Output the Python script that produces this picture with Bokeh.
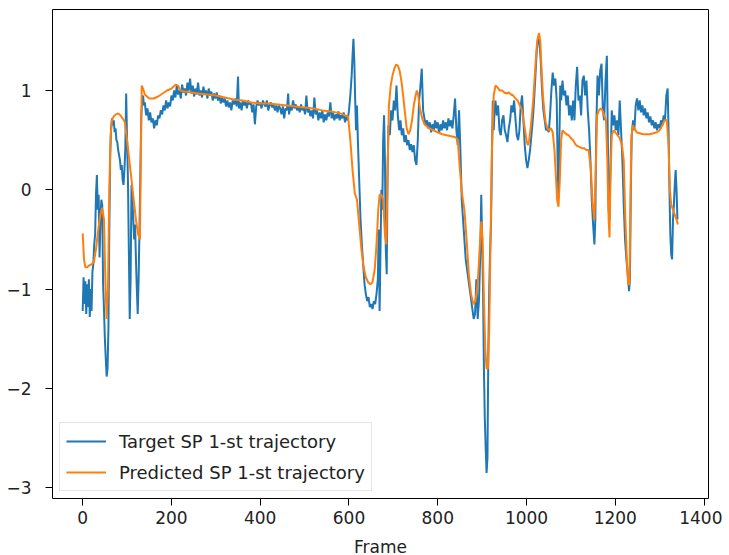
from bokeh.plotting import figure
from bokeh.models import Range1d, FixedTicker, Legend, LegendItem
from bokeh.embed import file_html
from bokeh.resources import INLINE

target_frames = [0, 2, 4, 6, 8, 10, 12, 14, 16, 18, 20, 22, 24, 26, 28, 30, 32, 34, 36, 38, 40, 42, 44, 46, 48, 50, 52, 54, 56, 58,
    60, 62, 64, 66, 68, 70, 72, 74, 76, 78, 80, 82, 84, 86, 88, 90, 92, 94, 96, 98, 100, 102, 104, 106, 108, 110, 112, 114, 116, 118,
    120, 122, 124, 126, 128, 130, 132, 134, 136, 138, 140, 143, 146, 149, 152, 155, 158, 161, 164, 167, 170, 173, 176, 179, 182, 185,
    188, 191, 194, 197, 200, 203, 206, 209, 212, 215, 218, 221, 224, 227, 230, 233, 236, 239, 242, 245, 248, 251, 254, 257, 260, 263,
    266, 269, 272, 275, 278, 281, 284, 287, 290, 293, 296, 299, 302, 305, 308, 311, 314, 317, 320, 323, 326, 329, 332, 335, 338, 341,
    344, 347, 350, 352, 355, 358, 361, 364, 367, 370, 373, 376, 379, 382, 385, 388, 391, 394, 397, 400, 403, 406, 409, 412, 415, 418,
    421, 424, 427, 430, 433, 436, 439, 442, 445, 448, 451, 454, 457, 460, 463, 465, 468, 471, 474, 477, 480, 483, 486, 489, 492, 495,
    498, 501, 504, 507, 510, 513, 516, 519, 522, 525, 528, 531, 534, 537, 540, 543, 546, 549, 552, 555, 558, 561, 564, 567, 570, 573,
    576, 579, 582, 585, 588, 591, 594, 597, 600, 603, 606, 608, 610, 612, 614, 616, 618, 620, 623, 626, 629, 632, 635, 638, 641, 644,
    647, 650, 653, 656, 659, 662, 665, 667, 669, 671, 673, 675, 677, 679, 681, 683, 685, 687, 689, 692, 695, 698, 701, 704, 707, 710,
    713, 716, 719, 722, 725, 728, 731, 734, 737, 740, 743, 746, 749, 752, 755, 758, 761, 764, 767, 770, 773, 776, 779, 782, 785, 788,
    791, 794, 797, 800, 803, 806, 809, 812, 815, 818, 821, 824, 827, 830, 833, 836, 839, 842, 845, 848, 851, 854, 857, 860, 863, 866,
    869, 872, 875, 878, 881, 884, 887, 890, 893, 896, 898, 900, 902, 904, 906, 908, 910, 912, 914, 916, 918, 920, 922, 924, 926, 928,
    930, 933, 936, 939, 942, 945, 948, 951, 954, 957, 960, 963, 966, 969, 972, 975, 978, 981, 984, 987, 990, 993, 996, 999, 1002, 1005,
    1008, 1011, 1014, 1017, 1020, 1023, 1026, 1029, 1032, 1035, 1038, 1041, 1044, 1047, 1050, 1053, 1056, 1059, 1062, 1065, 1068, 1070,
    1072, 1074, 1076, 1078, 1081, 1084, 1087, 1090, 1093, 1096, 1099, 1102, 1105, 1108, 1111, 1114, 1117, 1120, 1123, 1126, 1129, 1132,
    1135, 1138, 1141, 1144, 1147, 1150, 1153, 1155, 1157, 1160, 1163, 1166, 1169, 1172, 1175, 1178, 1181, 1183, 1185, 1187, 1189, 1192,
    1195, 1198, 1201, 1204, 1207, 1210, 1213, 1216, 1219, 1222, 1225, 1228, 1231, 1233, 1235, 1237, 1240, 1243, 1246, 1249, 1252, 1255,
    1258, 1261, 1264, 1267, 1270, 1273, 1276, 1279, 1282, 1285, 1288, 1291, 1294, 1297, 1300, 1303, 1306, 1309, 1312, 1315, 1318, 1320,
    1322, 1324, 1326, 1328, 1330, 1332, 1334, 1336, 1338, 1340]

target_values = [-1.22, -0.88, -1.15, -0.92, -1.25, -0.95, -1.18, -0.9, -1.28, -1.0, -1.22, -0.82, -0.75, -0.55, -0.45, -0.05, 0.15, -0.2, -0.05, -0.68,
    -0.3, -0.1, -0.15, -0.95, -1.2, -1.5, -1.7, -1.88, -1.8, -1.4,
    -0.4, 0.35, 0.62, 0.72, 0.65, 0.7, 0.58, 0.62, 0.5, 0.48, 0.4, 0.35, 0.3, 0.2, 0.25, 0.1, 0.05, 0.2, 0.4, 0.97, 0.5, 0.1, -0.6, -1.3, -0.9, 0.05, -0.1, -0.3, -0.5, -0.35,
    -0.7, -1.0, -1.25, -0.9, -0.4, 0.2, 0.75, 0.9, 0.95, 0.85, 0.88, 0.75, 0.82, 0.7, 0.78, 0.68, 0.72, 0.62, 0.7, 0.65, 0.75, 0.72, 0.8, 0.76, 0.85, 0.8,
    0.9, 0.82, 0.88, 0.84, 0.95, 0.9, 1.0, 0.93, 1.05, 0.96, 1.0, 0.92, 1.06, 0.98, 1.02, 0.95, 1.08, 1.0, 1.12, 0.97, 1.05, 0.94, 1.02, 0.96, 1.08, 0.95,
    1.0, 0.93, 1.04, 0.97, 1.0, 0.92, 1.02, 0.95, 0.99, 0.9, 0.97, 0.92, 0.98, 0.9, 0.95, 0.87, 0.93, 0.88, 0.92, 0.84, 0.9, 0.83, 0.88, 0.8, 0.9, 0.86,
    0.92, 0.84, 1.14, 0.82, 0.88, 0.8, 0.9, 0.85, 0.89, 0.82, 0.9, 0.86, 0.88, 0.78, 0.86, 0.66, 0.84, 0.9, 0.85, 0.88, 0.82, 0.9, 0.86, 0.84, 0.9, 0.8,
    0.85, 0.88, 0.83, 0.86, 0.8, 0.85, 0.78, 0.85, 0.82, 0.76, 0.84, 0.72, 0.82, 0.8, 0.97, 0.76, 0.84, 0.8, 0.9, 0.82, 0.86, 0.8, 0.84, 0.78, 0.86, 0.8,
    0.83, 0.76, 0.95, 0.78, 0.82, 0.74, 0.8, 0.72, 0.93, 0.76, 0.8, 0.7, 0.78, 0.72, 0.8, 0.68, 0.76, 0.7, 0.78, 0.74, 0.88, 0.72, 0.78, 0.7, 0.76, 0.72,
    0.79, 0.7, 0.75, 0.72, 0.78, 0.68, 0.74, 0.7, 0.8, 0.95, 1.15, 1.35, 1.52, 1.3, 0.9, 0.6, 0.85, 0.5, 0.1, -0.3, -0.55, -0.75, -0.95, -1.05, -1.12, -1.08,
    -1.18, -1.15, -1.2, -1.12, -1.15, -1.05, -0.9, -0.4, -1.22, -0.6, 0.0, -0.2, 0.5, 0.75, 0.3, -0.6, -0.85, 0.2, 0.65, 0.55, 0.8, 0.7, 0.9, 0.8, 1.05, 0.75,
    0.6, 0.7, 0.55, 0.62, 0.48, 0.55, 0.45, 0.5, 0.4, 0.46, 0.38, 0.45, 0.3, 0.25, 0.5, 0.9, 1.05, 1.22, 0.8, 0.72, 0.65, 0.7, 0.62, 0.68, 0.58, 0.66,
    0.6, 0.7, 0.62, 0.68, 0.57, 0.66, 0.6, 0.7, 0.62, 0.68, 0.6, 0.72, 0.64, 0.7, 0.62, 0.75, 0.92, 0.6, 0.45, 0.8, 0.4, -0.1, -0.3, -0.5, -0.7, -0.8,
    -0.9, -1.0, -1.1, -1.2, -1.3, -1.25, -0.9, -1.3, -1.1, -0.6, -0.05, -0.5, -1.0, -1.8, -2.3, -2.6, -2.85, -2.7, -1.6, -1.0, -0.6, -0.35, 0.3, 0.9, 0.6, 0.8,
    0.9, 0.75, 0.85, 0.6, 0.55, 0.7, 0.75, 0.6, 0.55, 0.48, 0.62, 0.7, 0.85, 0.78, 0.9, 0.72, 0.55, 0.5, 0.6, 0.85, 0.95, 0.7, 0.45, 0.3, 0.22, 0.3,
    0.4, 0.55, 0.7, 0.9, 1.15, 1.4, 1.52, 1.5, 1.3, 1.0, 0.8, 0.7, 0.6, 0.62, 0.58, 0.75, 1.0, 1.18, 1.05, 1.12, 0.9, 0.3,
    -0.08, 0.5, 1.05, 0.9, 1.1, 0.95, 1.0, 0.85, 0.95, 0.75, 0.85, 0.7, 0.9, 0.7, 1.05, 1.24, 0.9, 0.95, 0.75, 1.1, 1.15, 0.95,
    1.1, 0.8, 0.6, 0.3, -0.1, -0.35, -0.55, -0.3, 0.6, 1.15, 0.95, 1.2, 1.27, 0.8, 0.7, 1.1, 1.35, 0.6, -0.2, -0.3, 0.2, 0.8,
    0.65, 0.75, 0.6, 0.7, 0.55, 0.9, 0.6, 0.3, -0.15, -0.5, -0.7, -0.85, -1.02, -0.9, 0.0, 0.55, 0.7, 0.6, 0.85, 0.92, 0.8, 0.9,
    0.78, 0.85, 0.75, 0.82, 0.72, 0.78, 0.68, 0.74, 0.65, 0.7, 0.62, 0.68, 0.6, 0.66, 0.62, 0.7, 0.65, 0.75, 0.7, 0.95, 1.02, 0.6,
    0.0, -0.45, -0.65, -0.7, -0.3, -0.15, 0.05, 0.2, 0.0, -0.3]

pred_frames = [0, 3, 6, 10, 15, 20, 25, 30, 35, 40, 44, 48, 51, 54, 57, 60, 63, 66, 70, 75, 80, 85, 90, 95, 100, 105, 110, 115, 120, 125,
    129, 131, 133, 136, 140, 145, 150, 160, 170, 180, 190, 200, 210, 215, 220, 230, 245, 260, 280, 300, 320, 340, 360, 380, 400, 420,
    440, 460, 480, 500, 520, 540, 560, 580, 598, 603, 608, 613, 618, 623, 628, 633, 638, 643, 648, 653, 658, 662, 666, 669, 673, 677,
    681, 684, 687, 690, 694, 698, 702, 706, 710, 714, 718, 722, 726, 730, 734, 738, 742, 746, 750, 753, 756, 760, 765, 770, 780, 790,
    800, 810, 820, 830, 840, 845, 850, 855, 860, 865, 870, 875, 880, 885, 890, 895, 898, 901, 904, 907, 910, 913, 916, 919, 922, 926,
    930, 935, 940, 945, 950, 955, 960, 965, 970, 975, 980, 985, 990, 995, 1000, 1003, 1006, 1010, 1015, 1020, 1024, 1028, 1031, 1034,
    1037, 1040, 1043, 1047, 1051, 1055, 1059, 1063, 1066, 1069, 1072, 1075, 1078, 1081, 1085, 1090, 1095, 1100, 1105, 1110, 1115, 1120,
    1125, 1130, 1135, 1140, 1145, 1149, 1153, 1156, 1159, 1163, 1167, 1171, 1175, 1179, 1182, 1185, 1187, 1189, 1192, 1196, 1200, 1205,
    1210, 1215, 1219, 1222, 1226, 1229, 1232, 1234, 1236, 1239, 1243, 1248, 1255, 1262, 1270, 1278, 1286, 1294, 1300, 1306, 1311, 1316,
    1320, 1323, 1326, 1330, 1334, 1338, 1341]

pred_values = [-0.44, -0.7, -0.78, -0.78, -0.76, -0.75, -0.73, -0.6, -0.4, -0.25, -0.18, -0.3, -0.9, -1.3, -1.0, 0.0, 0.55, 0.7, 0.74, 0.76,
    0.77, 0.75, 0.72, 0.68, 0.5, 0.3, 0.1, -0.1, -0.3, -0.45, -0.5, 0.3, 1.05, 1.02, 0.96, 0.94, 0.92, 0.92, 0.94, 0.97, 1.0, 1.02, 1.06, 1.05,
    1.0, 0.99, 0.98, 0.97, 0.96, 0.95, 0.93, 0.91, 0.9, 0.88, 0.87, 0.87, 0.86, 0.85, 0.84, 0.83, 0.82, 0.8, 0.79, 0.77, 0.74, 0.5, 0.2,
    -0.03, -0.1, -0.35, -0.6, -0.78, -0.88, -0.93, -0.95, -0.93, -0.8, -0.55, -0.2, -0.05, -0.05, -0.1, -0.45, -0.55, 0.2, 0.85, 1.05,
    1.15, 1.22, 1.26, 1.25, 1.2, 1.1, 0.95, 0.78, 0.62, 0.56, 0.6, 0.7, 0.85, 0.95, 1.0, 0.95, 0.82, 0.72, 0.66, 0.62, 0.6, 0.58, 0.56,
    0.55, 0.54, 0.53, 0.5, 0.2, -0.05, -0.2, -0.5, -0.85, -1.05, -1.15, -1.12, -0.95, -0.55, -0.32, -0.5, -1.1, -1.6, -1.8, -1.8, -1.4,
    -0.5, 0.4, 0.95, 1.05, 1.03, 1.0, 1.0, 0.98, 0.97, 0.98, 0.96, 0.95, 0.92, 0.9, 0.85, 0.8, 0.65, 0.5, 0.45, 0.5, 0.65, 0.9, 1.25,
    1.5, 1.58, 1.5, 1.2, 0.95, 0.8, 0.68, 0.62, 0.6, 0.62, 0.58, 0.4, 0.15, -0.1, -0.17, 0.1, 0.5, 0.6, 0.58, 0.56, 0.55, 0.52, 0.5,
    0.46, 0.44, 0.43, 0.42, 0.42, 0.4, 0.4, 0.2, -0.15, -0.3, 0.2, 0.75, 0.8, 0.82, 0.8, 0.75, 0.7, 0.3, -0.3, -0.48, 0.1, 0.55, 0.6,
    0.58, 0.55, 0.52, 0.45, 0.3, -0.2, -0.7, -0.95, -0.95, -0.2, 0.5, 0.65, 0.62, 0.58, 0.57, 0.56, 0.56, 0.56, 0.57, 0.58, 0.6, 0.65,
    0.7, 0.7, 0.45, 0.0, -0.15, -0.2, -0.25, -0.3, -0.35]

x_ticks = [0, 200, 400, 600, 800, 1000, 1200, 1400]
y_ticks = [-3, -2, -1, 0, 1]
y_tick_labels = ["\u22123", "\u22122", "\u22121", "0", "1"]
x_label = "Frame"
series_names = ["Target SP 1-st trajectory", "Predicted SP 1-st trajectory"]

FONT = "DejaVu Sans"

p = figure(frame_width=656, frame_height=489, output_backend="svg", toolbar_location=None,
           x_range=Range1d(-68, 1410), y_range=Range1d(-3.108, 1.816),
           min_border_left=52, min_border_right=14, min_border_top=9, min_border_bottom=48)
p.background_fill_color = "white"
p.border_fill_color = "white"
p.outline_line_color = "black"
p.outline_line_width = 1
p.xgrid.visible = False
p.ygrid.visible = False

r1 = p.line(target_frames, target_values, line_color="#1f77b4", line_width=2)
r2 = p.line(pred_frames, pred_values, line_color="#ff7f0e", line_width=2)

p.xaxis.ticker = FixedTicker(ticks=x_ticks)
p.yaxis.ticker = FixedTicker(ticks=y_ticks)
p.yaxis.major_label_overrides = {t: l for t, l in zip(y_ticks, y_tick_labels)}
for ax in (p.xaxis[0], p.yaxis[0]):
    ax.axis_line_color = None
    ax.major_tick_out = 7
    ax.major_tick_in = 0
    ax.minor_tick_line_color = None
    ax.major_tick_line_color = "black"
    ax.major_label_text_font = FONT
    ax.major_label_text_font_size = "17px"
    ax.major_label_text_color = "#222222"
    ax.major_label_standoff = 5
p.yaxis.major_label_standoff = 14
p.xaxis.axis_label = x_label
p.xaxis.axis_label_text_font = FONT
p.xaxis.axis_label_text_font_size = "17px"
p.xaxis.axis_label_text_font_style = "normal"
p.xaxis.axis_label_text_color = "#222222"
p.xaxis.axis_label_standoff = 10

legend = Legend(items=[LegendItem(label=series_names[0], renderers=[r1]),
                       LegendItem(label=series_names[1], renderers=[r2])],
                location="bottom_left")
legend.label_text_font = FONT
legend.label_text_font_size = "18px"
legend.label_text_color = "#222222"
legend.glyph_width = 40
legend.glyph_height = 24
legend.label_height = 24
legend.label_standoff = 13
legend.spacing = 7
legend.padding = 6
legend.margin = 7
legend.border_line_color = "#cccccc"
legend.border_line_width = 1
legend.background_fill_alpha = 0.85
p.add_layout(legend)

open("out.html", "w").write(file_html(p, INLINE))
